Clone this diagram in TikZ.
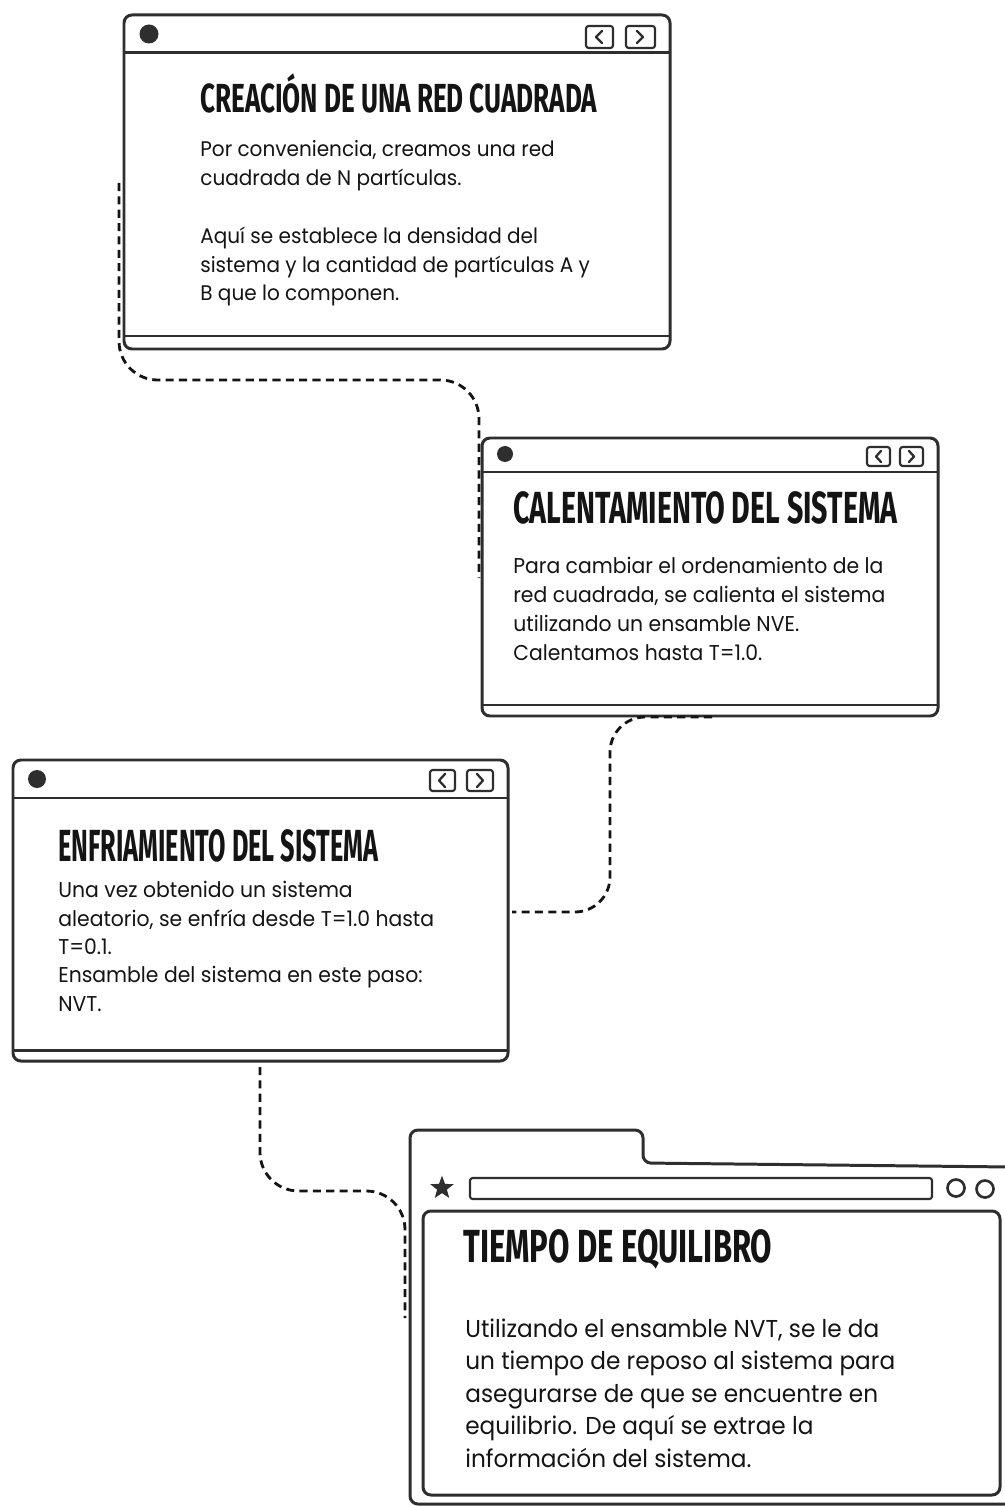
\documentclass[tikz,border=0pt]{standalone}
\usepackage{fontspec}
\usepackage{graphicx}
\usetikzlibrary{shapes.geometric}
\newfontfamily\bodyfont[FakeStretch=0.95]{Poppins}
\newfontfamily\titlefont{Fira Sans}
\newdimen\pxu \pxu=0.02cm
\definecolor{ink}{HTML}{2E2E2E}
\definecolor{txt}{HTML}{141414}
\newcommand\ttl[2]{\resizebox{#1\pxu}{\height}{\titlefont\bfseries #2}}
\begin{document}
\begin{tikzpicture}[x=0.02cm,y=-0.02cm,
 frame/.style={draw=ink, line width=1.7pt, rounded corners=4.5pt, line join=round},
 sepline/.style={draw=ink, line width=1.7pt},
 conn/.style={draw=txt, line width=1.6pt, dash pattern=on 4.6pt off 3pt},
 btn/.style={draw=ink, line width=1.2pt, rounded corners=1.5pt},
 chev/.style={draw=ink, line width=1.3pt, line cap=round, line join=round},
 titlenode/.style={anchor=base west, inner sep=0, text=txt},
 bodynode/.style={anchor=base west, inner sep=0, align=left, text=txt},
]
\useasboundingbox[fill=white] (0,0) rectangle (1004,1506);

% ---------- window 1 ----------
\draw[frame] (124,15) -- (670,15) -- (670,349) -- (124,349) -- cycle;
\draw[sepline] (124,53) -- (670,53);
\draw[sepline] (124,336) -- (670,336);
\fill[ink] (149,34) circle[radius=9.5];
\draw[btn] (586,26) rectangle (613,48);
\draw[btn] (626,26) rectangle (655,48);
\draw[chev] (602,31) -- (596,37) -- (602,43);
\draw[chev] (637,31) -- (643,37) -- (637,43);
\node[titlenode, font=\fontsize{23.1pt}{26pt}\selectfont] (t1) at (200,113) {\ttl{397}{CREACIÓN DE UNA RED CUADRADA}};
% anchor = baseline of the last line
\node[bodynode, font=\bodyfont\fontsize{12pt}{16.5pt}\selectfont] (b1) at (200,301)
 {Por conveniencia, creamos una red\\
  cuadrada de N partículas.\\[16.5pt]
  Aquí se establece la densidad del\\
  sistema y la cantidad de partículas A y\\
  B que lo componen.};

% ---------- window 2 ----------
\draw[frame] (482,438) -- (938,438) -- (938,716) -- (482,716) -- cycle;
\draw[sepline] (482,472) -- (938,472);
\draw[sepline] (482,705) -- (938,705);
\fill[ink] (505,454) circle[radius=8];
\draw[btn] (867,447) rectangle (890,466);
\draw[btn] (900,447) rectangle (923,466);
\draw[chev] (881,451) -- (876,456.5) -- (881,462);
\draw[chev] (909,451) -- (914,456.5) -- (909,462);
\node[titlenode, font=\fontsize{25.6pt}{28pt}\selectfont] (t2) at (513,523) {\ttl{384}{CALENTAMIENTO DEL SISTEMA}};
\node[bodynode, font=\bodyfont\fontsize{12.2pt}{16.5pt}\selectfont] (b2) at (513,660)
 {Para cambiar el ordenamiento de la\\
  red cuadrada, se calienta el sistema\\
  utilizando un ensamble NVE.\\
  Calentamos hasta T=1.0.};

% ---------- window 3 ----------
\draw[frame] (13,760) -- (508,760) -- (508,1061) -- (13,1061) -- cycle;
\draw[sepline] (13,798) -- (508,798);
\draw[sepline] (13,1050) -- (508,1050);
\fill[ink] (37,779) circle[radius=9];
\draw[btn] (430,770) rectangle (455,791);
\draw[btn] (467,770) rectangle (493,791);
\draw[chev] (445,774) -- (439,780.5) -- (445,787);
\draw[chev] (477,774) -- (483,780.5) -- (477,787);
\node[titlenode, font=\fontsize{25.6pt}{28pt}\selectfont] (t3) at (58,861) {\ttl{320}{ENFRIAMIENTO DEL SISTEMA}};
\node[bodynode, font=\bodyfont\fontsize{12.2pt}{16.1pt}\selectfont] (b3) at (58,1011)
 {Una vez obtenido un sistema\\
  aleatorio, se enfría desde T=1.0 hasta\\
  T=0.1.\\
  Ensamble del sistema en este paso:\\
  NVT.};

% ---------- window 4 ----------
\draw[frame] (1012,1167) -- (643,1163) -- (643,1130) -- (410,1130) -- (410,1504) -- (1012,1504);
\draw[frame] (423,1211) -- (1000,1211) -- (1000,1495) -- (423,1495) -- cycle;
\node[star, star points=5, star point ratio=2.4, fill=ink, inner sep=0, minimum size=14pt] (star) at (442,1188) {};
\draw[btn] (470,1178) rectangle (932,1199);
\draw[ink, line width=1.5pt] (956,1188) circle[radius=8.5];
\draw[ink, line width=1.5pt] (985,1189) circle[radius=8.5];
\node[titlenode, font=\fontsize{26.4pt}{29pt}\selectfont] (t4) at (463,1262) {\ttl{309}{TIEMPO DE EQUILIBRO}};
\node[bodynode, font=\bodyfont\fontsize{13.9pt}{18.5pt}\selectfont] (b4) at (465,1467)
 {Utilizando el ensamble NVT, se le da\\
  un tiempo de reposo al sistema para\\
  asegurarse de que se encuentre en\\
  equilibrio. De aquí se extrae la\\
  información del sistema.};

% ---------- connectors ----------
\coordinate (c1a) at (119,183);
\coordinate (c1b) at (479,578);
\draw[conn, rounded corners=22pt] (c1a) -- (119,380) -- (479,380) -- (c1b);
\coordinate (c2a) at (712,717);
\coordinate (c2b) at (512,912);
\draw[conn, rounded corners=20pt] (c2a) -- (610,717) -- (610,912) -- (c2b);
\coordinate (c3a) at (260,1067);
\coordinate (c3b) at (405,1318);
\draw[conn, rounded corners=22pt] (c3a) -- (260,1191) -- (405,1191) -- (c3b);
\end{tikzpicture}
\end{document}
